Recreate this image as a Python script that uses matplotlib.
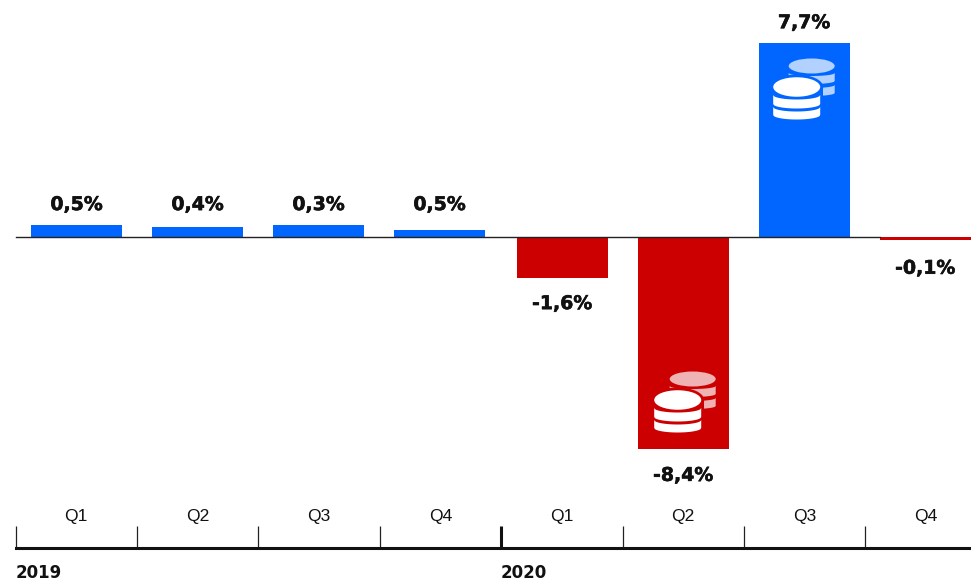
import numpy as np
import matplotlib
matplotlib.use("Agg")
import matplotlib.pyplot as plt
import matplotlib.patheffects as pe
from matplotlib.patches import Ellipse, Rectangle

# values
quarters = ["Q1", "Q2", "Q3", "Q4", "Q1", "Q2", "Q3", "Q4"]
years = ["2019", "2020"]
bar_values = [0.5, 0.4, 0.5, 0.3, -1.6, -8.4, 7.7, -0.1]
bar_labels = ["0,5%", "0,4%", "0,3%", "0,5%", "-1,6%", "-8,4%", "7,7%", "-0,1%"]

BLUE = "#0066ff"
RED = "#cc0000"
W, H = 971, 582

plt.rcParams["font.family"] = ["Liberation Sans", "DejaVu Sans"]

fig = plt.figure(figsize=(W / 100, H / 100), dpi=100)

# px -> figure fractions
def box(x0, y0, x1, y1):
    return [x0 / W, 1 - y1 / H, (x1 - x0) / W, (y1 - y0) / H]

step = 121.0
x_first = 76.5
xlim = (-x_first / step, (W - x_first) / step)
x = np.arange(len(bar_values))
# the 2020 bars sit a touch to the right
bar_x = x + np.where(x >= 4, 0.013, 0)
bar_w = 0.752

# main chart, 25.26 px per percent
base_px = 237.2
ax = fig.add_axes([0, 0, 1, 1])
ax.set_xlim(xlim)
ax.set_ylim((base_px - H) / 25.26, base_px / 25.26)
ax.axis("off")
colors = [BLUE if v > 0 else RED for v in bar_values]
ax.bar(bar_x, bar_values, width=bar_w, color=colors, linewidth=0, zorder=2)
# baseline stops where the last bar starts
ax.plot([(16 - x_first) / step, bar_x[-1] - bar_w / 2], [0, 0], color="#222222", lw=1.0, zorder=3)

for xi, v, lab in zip(bar_x, bar_values, bar_labels):
    # small bars share one label height
    anchor = max(v, 0.5) if v > 0 else min(v, -0.2)
    t = ax.annotate(lab, (xi, anchor), xytext=(0, 20 if v > 0 else -26), textcoords="offset pixels",
                    ha="center", va="center", fontsize=13.6,
                    fontweight="bold", family=["DejaVu Sans"], color="#111111")
    t.set_path_effects([pe.withStroke(linewidth=0.4, foreground="#111111")])

# timeline
x_first_t = 76.2
step_t = 121.4
xlim_t = (-x_first_t / step_t, (W - x_first_t) / step_t)
ax_t = fig.add_axes(box(0, 500, W, 547.5))
ax_t.set_xlim(xlim_t)
ax_t.set_ylim(0, 1)
ax_t.patch.set_alpha(0)
for s in ["top", "left", "right"]:
    ax_t.spines[s].set_visible(False)
ax_t.spines["bottom"].set_linewidth(2.2)
ax_t.spines["bottom"].set_color("#111111")
ax_t.spines["bottom"].set_bounds(-0.5, xlim_t[1])
ax_t.set_yticks([])
edges = x - 0.5
ax_t.set_xticks([3.5])
ax_t.set_xticks([e for e in edges if e != 3.5], minor=True)
ax_t.tick_params(axis="x", which="major", direction="in", length=16, width=2.2,
                 color="#111111", labelbottom=False)
ax_t.tick_params(axis="x", which="minor", direction="in", length=16, width=0.9,
                 color="#222222", labelbottom=False)
for xi, q in zip(x, quarters):
    ax_t.annotate(q, (xi, 0), xytext=(0, 31.5), textcoords="offset pixels", ha="center",
                  va="center", fontsize=12.6, color="#111111")
for xpos, year in zip([-0.5, 3.5], years):
    t = ax_t.annotate(year, (xpos, 0), xytext=(0, -30.5), textcoords="offset pixels", ha="left",
                      va="baseline", fontsize=12, fontweight="bold",
                      family=["DejaVu Sans"], color="#111111")

# coin icons, drawn in pixels
ax_i = fig.add_axes([0, 0, 1, 1])
ax_i.set_xlim(0, W)
ax_i.set_ylim(H, 0)
ax_i.axis("off")
ax_i.patch.set_alpha(0)


def band(cx, hw, y0, y1, sag, color, zorder):
    t = np.linspace(-1, 1, 60)
    xs = cx + hw * t
    curve = sag * np.sqrt(1 - t ** 2)
    ax_i.fill(np.r_[xs, xs[::-1]], np.r_[y0 + curve, (y1 + curve)[::-1]],
              color=color, lw=0, zorder=zorder)


def coins(cx, cy, bg, light):
    bx, by = cx + 15, cy - 21
    ax_i.add_patch(Ellipse((bx, by), 46, 15, color=light, lw=0, zorder=2))
    band(bx, 23, by + 7, by + 15, 3, light, 2)
    band(bx, 23, by + 19, by + 27, 3, light, 2)
    # gap round the front coin
    ax_i.add_patch(Ellipse((cx, cy), 53, 25, color=bg, lw=0, zorder=3))
    ax_i.add_patch(Rectangle((cx - 26.5, cy), 53, 36, color=bg, lw=0, zorder=3))
    ax_i.add_patch(Ellipse((cx, cy), 47, 19.5, color="white", lw=0, zorder=4))
    band(cx, 23.5, cy + 8, cy + 17, 4.5, "white", 4)
    band(cx, 23.5, cy + 20, cy + 28, 4.5, "white", 4)


coins(796.7, 87, BLUE, "#b3d1ff")
coins(677.7, 400, RED, "#f0b3b3")

fig.savefig("out.png", dpi=100)
